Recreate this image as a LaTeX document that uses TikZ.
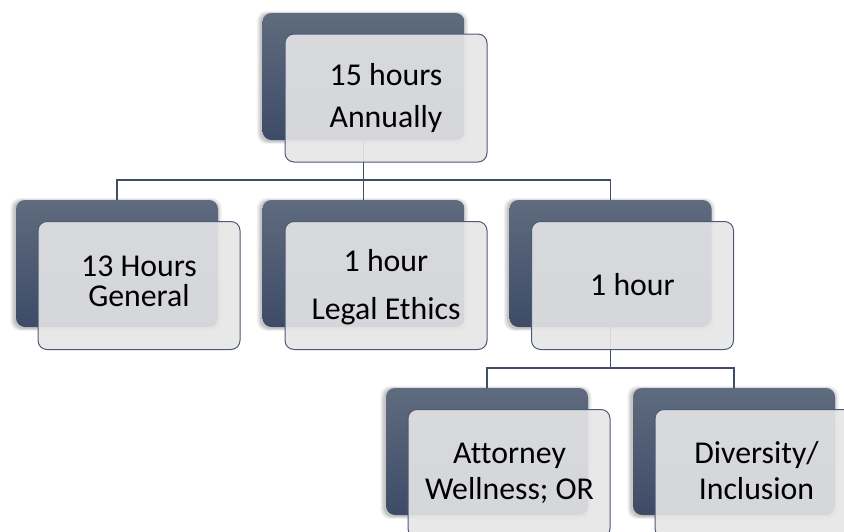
\documentclass[tikz,border=0pt]{standalone}
\usepackage{fontspec}
\setmainfont{Carlito}[Ligatures=NoCommon]
\usetikzlibrary{shadows}
\definecolor{darktop}{HTML}{5F6B7E}
\definecolor{darkbot}{HTML}{3D4B67}
\definecolor{lightfill}{HTML}{E6E6E7}
\definecolor{lineclr}{HTML}{3F4D66}
\definecolor{edgeclr}{HTML}{4C5A74}
\tikzset{
  darkbox/.style={rectangle, rounded corners=9pt, minimum width=202pt, minimum height=127pt,
    inner sep=0pt, top color=darktop, bottom color=darkbot, draw=none,
    general shadow={fill=black, opacity=0.06, shadow scale=1.045, shadow xshift=-1pt, shadow yshift=-1pt},
    general shadow={fill=black, opacity=0.08, shadow scale=1.03, shadow xshift=-1pt, shadow yshift=-1pt},
    general shadow={fill=black, opacity=0.10, shadow scale=1.015, shadow xshift=-1pt, shadow yshift=-1pt}},
  lightbox/.style={rectangle, rounded corners=9pt, minimum width=202pt, minimum height=128pt,
    inner sep=0pt, fill=lightfill, fill opacity=0.9, draw=edgeclr, line width=1pt},
  conn/.style={draw=lineclr, line width=1.8pt},
  txt/.style={font=\fontsize{31.8}{32}\selectfont, anchor=base, inner sep=0pt, text=black}
}
\begin{document}
\begin{tikzpicture}[x=1pt, y=-1pt]
\useasboundingbox (0,0) rectangle (844,531);
\clip (0,0) rectangle (844,531);
% dark boxes
\node[darkbox] (d0) at (363.5,76.5) {};
\node[darkbox] (d1) at (117,263.5) {};
\node[darkbox] (d2) at (363.5,263.5) {};
\node[darkbox] (d3) at (610.5,263.5) {};
\node[darkbox] (d4) at (487,451.5) {};
\node[darkbox] (d5) at (734,451.5) {};
% connectors
\coordinate (bus1) at (363.5,180);
\coordinate (bus2) at (610.5,368);
\draw[conn] (d0.south) -- (d0.south |- bus1) -| (d1.north);
\draw[conn] (d0.south |- bus1) -- (d2.north);
\draw[conn] (d0.south |- bus1) -| (d3.north);
\draw[conn] (d3.south) -- (d3.south |- bus2) -| (d4.north);
\draw[conn] (d3.south |- bus2) -| (d5.north);
% light boxes
\node[lightbox] (l0) at (386,98) {};
\node[lightbox] (l1) at (139,285.5) {};
\node[lightbox] (l2) at (386,285.5) {};
\node[lightbox] (l3) at (632.5,285.5) {};
\node[lightbox] (l4) at (509,473.5) {};
\node[lightbox] (l5) at (756,473.5) {};
% texts
\node[txt] (t0a) at (386,85) {15 hours};
\node[txt] (t0b) at (386,127) {Annually};
\node[txt] (t1a) at (139,276) {13 Hours};
\node[txt] (t1b) at (139,306) {General};
\node[txt] (t2a) at (386,271) {1 hour};
\node[txt] (t2b) at (386,319) {Legal Ethics};
\node[txt] (t3) at (632.5,295) {1 hour};
\node[txt] (t4a) at (509.5,463) {Attorney};
\node[txt] (t4b) at (509.5,499) {Wellness; OR};
\node[txt] (t5a) at (756.5,463) {Diversity/};
\node[txt] (t5b) at (756.5,499) {Inclusion};
\end{tikzpicture}
\end{document}
